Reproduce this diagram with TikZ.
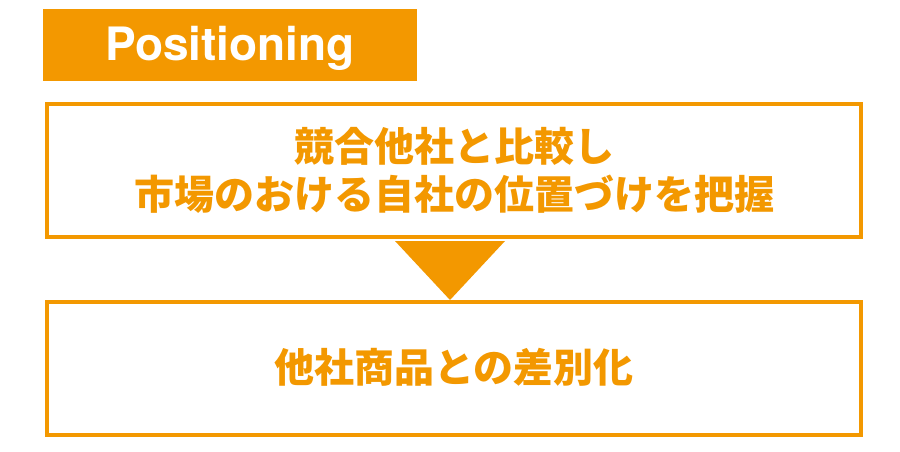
\documentclass[tikz,border=0pt]{standalone}
\usepackage{fontspec}
\newfontfamily\jpfont{Noto Sans CJK JP}
\newfontfamily\hvfont{TeX Gyre Heros}
\definecolor{orng}{HTML}{F39800}
\tikzset{
  outline/.style={draw=orng, line width=4pt, fill=white},
  headbox/.style={fill=orng},
  jptext/.style={text=orng, inner sep=0pt, anchor=base, font=\jpfont\bfseries\fontsize{40}{48}\selectfont},
  headtext/.style={text=white, inner sep=0pt, anchor=base, font=\hvfont\bfseries\fontsize{46}{50}\selectfont},
}
\begin{document}
\begin{tikzpicture}[x=1pt,y=-1pt]
\useasboundingbox (0,0) rectangle (900,451);
\fill[white] (0,0) rectangle (900,451);
% header
\path[headbox] (43,9) rectangle (417,81);
\coordinate (hc) at (230,60);
\node[headtext] (head) at (hc) {Positioning};
% boxes
\node[outline, minimum width=814pt, minimum height=133pt, inner sep=0pt] (box1) at (454,170.5) {};
\node[outline, minimum width=814pt, minimum height=133pt, inner sep=0pt] (box2) at (454,368.5) {};
% triangle arrow
\fill[orng] ([xshift=-59pt,yshift=-2pt]box1.south) -- ([xshift=51pt,yshift=-2pt]box1.south) -- ([xshift=-4pt]box2.north) -- cycle;
% texts
\node[jptext] (t1) at (454,161) {競合他社と比較し};
\node[jptext] (t2) at (454,209) {市場のおける自社の位置づけを把握};
\node[jptext] (t3) at (454,382) {他社商品との差別化};
\end{tikzpicture}
\end{document}
